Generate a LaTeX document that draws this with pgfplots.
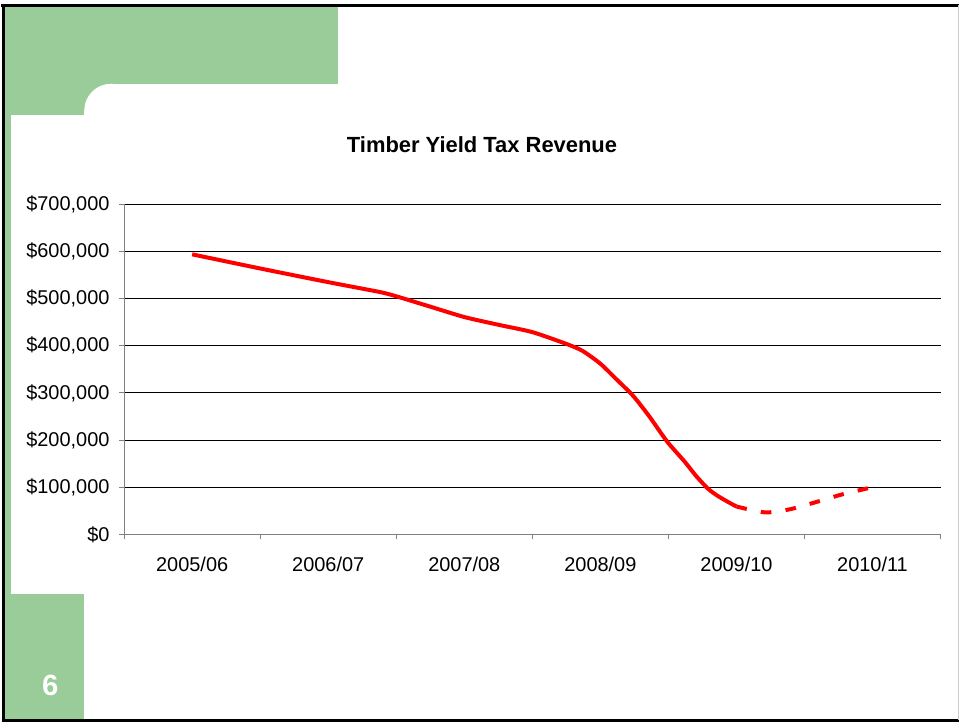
\documentclass[border=0pt]{standalone}
\usepackage{pgfplots}
\pgfplotsset{compat=1.18}
\usepackage{fontspec}
\setmainfont{Liberation Sans}
\definecolor{slidegreen}{RGB}{153,204,153}
\definecolor{axgray}{RGB}{128,128,128}
\begin{document}
\begin{tikzpicture}
\begin{scope}[x=0.75pt,y=-0.75pt]
\fill[white] (0,0) rectangle (960,724);
\fill[slidegreen] (4,5) rectangle (338,84);
\fill[slidegreen] (4,84) rectangle (83,115);
\fill[slidegreen] (83,84) rectangle (110,111);
\fill[white] (110,111) circle (27);
\fill[slidegreen] (4,5) rectangle (10,721);
\fill[slidegreen] (10,596) rectangle (83,721);
\draw[line width=2.25pt] (0,5.5) -- (960,5.5);
\draw[line width=2.25pt] (2.5,4) -- (2.5,722.5) -- (960,722.5);
\draw[axgray!40, line width=0.75pt] (959.5,5) -- (959.5,722);
\node[white, font=\bfseries\fontsize{22}{22}\selectfont] at (49,688) {6};
\node[font=\bfseries\fontsize{16.5}{18}\selectfont] at (482,145) {Timber Yield Tax Revenue};
\end{scope}
\begin{axis}[
  at={(92.25pt,-402pt)}, anchor=south west,
  scale only axis, width=614.25pt, height=248.25pt,
  xmin=-0.5, xmax=5.5, ymin=0, ymax=700000,
  axis x line*=bottom, axis y line*=left,
  axis line style={draw=axgray, line width=0.75pt, -},
  xtick={0,1,2,3,4,5},
  xticklabels={2005/06,2006/07,2007/08,2008/09,2009/10,2010/11},
  minor xtick={-0.5,0.5,1.5,2.5,3.5,4.5,5.5},
  xtick style={draw=none},
  minor x tick style={draw=axgray, line width=0.75pt},
  tick align=outside,
  major tick length=3.75pt, minor tick length=3.75pt,
  ytick={0,100000,200000,300000,400000,500000,600000,700000},
  yticklabels={{\$0},{\$100,000},{\$200,000},{\$300,000},{\$400,000},{\$500,000},{\$600,000},{\$700,000}},
  y tick style={draw=axgray, line width=0.75pt},
  scaled y ticks=false,
  ymajorgrids, grid style={black, line width=0.75pt},
  ticklabel style={font=\fontsize{15}{16}\selectfont},
  yticklabel style={xshift=-3.75pt},
  xticklabel style={yshift=-9.75pt},
  clip=false,
]
\addplot[red, line width=3pt, smooth, tension=0.4] coordinates {
(0,594000) (0.5,564000) (1,535000) (1.38,514000) (1.5,505000) (1.75,483000)
(2,461000) (2.26,444000) (2.5,429000) (2.75,404000) (2.87,389000) (3.0,362000)
(3.1,334000) (3.24,294000) (3.36,250000) (3.49,197000) (3.62,154000) (3.7,125000)
(3.79,97000) (3.86,82000) (3.93,70000) (4.0,59000)
};
\addplot[red, line width=3pt, smooth, tension=0.4, dash pattern=on 8pt off 10.75pt] coordinates {
(4.0,59000) (4.21,46500) (4.39,53000) (4.58,68000) (4.78,85000) (5.0,100000)
};
\end{axis}
\end{tikzpicture}
\end{document}
